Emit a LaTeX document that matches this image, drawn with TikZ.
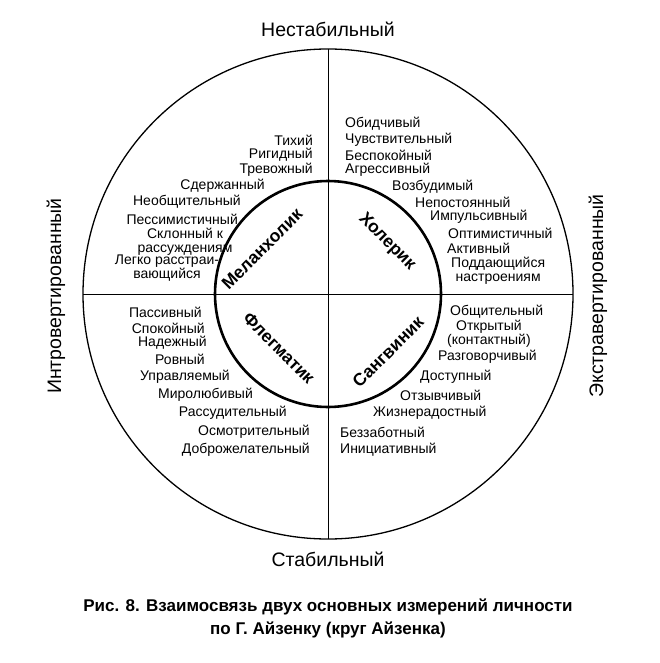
\documentclass[tikz,border=0pt]{standalone}
\usepackage{fontspec}
\setmainfont{Liberation Sans}
\begin{document}
\begin{tikzpicture}[x=1pt,y=-1pt,
  w/.style={font=\fontsize{14}{14.5}\selectfont, inner sep=0pt},
  wl/.style={w, anchor=west, align=left},
  wr/.style={w, anchor=east, align=right},
  ax/.style={font=\fontsize{19.5}{21}\selectfont, inner sep=0pt},
  tp/.style={font=\fontsize{17.5}{18}\selectfont\bfseries, inner sep=0pt},
  captext/.style={font=\fontsize{17}{23}\selectfont\bfseries, align=center, inner sep=0pt}]
\fill[white] (0,0) rectangle (659,663);
\coordinate (c) at (328,294);
\coordinate (t) at (328,49);
\coordinate (b) at (328,539);
\coordinate (l) at (83,294);
\coordinate (r) at (573,294);
\draw[line width=1.3pt] (c) circle[radius=245];
\draw[line width=0.8pt] (t) -- (b);
\draw[line width=0.8pt] (l) -- (r);
\draw[line width=2.6pt] (c) circle[radius=113];
% types
\node[tp, rotate=45] (mel) at (262,249) {Меланхолик};
\node[tp, rotate=-45] (hol) at (387,242) {Холерик};
\node[tp, rotate=-45] (fle) at (279,348) {Флегматик};
\node[tp, rotate=45] (san) at (388,352) {Сангвиник};
% axes
\node[ax] (ns) at (328,29) {Нестабильный};
\node[ax] (st) at (328,559) {Стабильный};
\node[ax, rotate=90] (intro) at (56,296) {Интровертированный};
\node[ax, rotate=90] (extra) at (598,296) {Экстравертированный};
% upper left
\node[wr] (a1) at (313,140) {Тихий};
\node[wr] (a2) at (313,155) {Ригидный};
\node[wr] (a3) at (313,170) {Тревожный};
\node[wr] (a4) at (265,186) {Сдержанный};
\node[wr] (a5) at (241,202) {Необщительный};
\node[wr] (a6) at (238,219) {Пессимистичный};
\node[w, align=center] (a7) at (185,242) {Склонный к\\рассуждениям};
\node[w, align=center] (a8) at (167,268) {Легко расстраи-\\вающийся};
% upper right
\node[wl] (b1) at (345,124) {Обидчивый};
\node[wl] (b2) at (345,140) {Чувствительный};
\node[wl] (b3) at (345,155) {Беспокойный};
\node[wl] (b4) at (345,170) {Агрессивный};
\node[wl] (b5) at (392,187) {Возбудимый};
\node[wl] (b6) at (415,202) {Непостоянный};
\node[wl] (b7) at (430,217) {Импульсивный};
\node[wl] (b8) at (448,233) {Оптимистичный};
\node[wl] (b9) at (447,248) {Активный};
\node[w, anchor=west, align=center] (b10) at (451,271) {Поддающийся\\настроениям};
% lower left
\node[wr] (c1) at (202,312) {Пассивный};
\node[wr] (c2) at (205,328) {Спокойный};
\node[wr] (c3) at (207,343) {Надежный};
\node[wr] (c4) at (205,359) {Ровный};
\node[wr] (c5) at (230,377) {Управляемый};
\node[wr] (c6) at (253,395) {Миролюбивый};
\node[wr] (c7) at (287,413) {Рассудительный};
\node[wr] (c8) at (310,432) {Осмотрительный};
\node[wr] (c9) at (310,450) {Доброжелательный};
% lower right
\node[wl] (d1) at (450,312) {Общительный};
\node[w, anchor=west, align=center] (d2) at (447,334) {Открытый\\(контактный)};
\node[wl] (d3) at (438,357) {Разговорчивый};
\node[wl] (d4) at (420,377) {Доступный};
\node[wl] (d5) at (400,395) {Отзывчивый};
\node[wl] (d6) at (373,413) {Жизнерадостный};
\node[wl] (d7) at (340,432) {Беззаботный};
\node[wl] (d8) at (340,450) {Инициативный};
% caption
\node[captext] (capt) at (328,618) {Рис. 8. Взаимосвязь двух основных измерений личности\\по Г. Айзенку (круг Айзенка)};
\end{tikzpicture}
\end{document}
